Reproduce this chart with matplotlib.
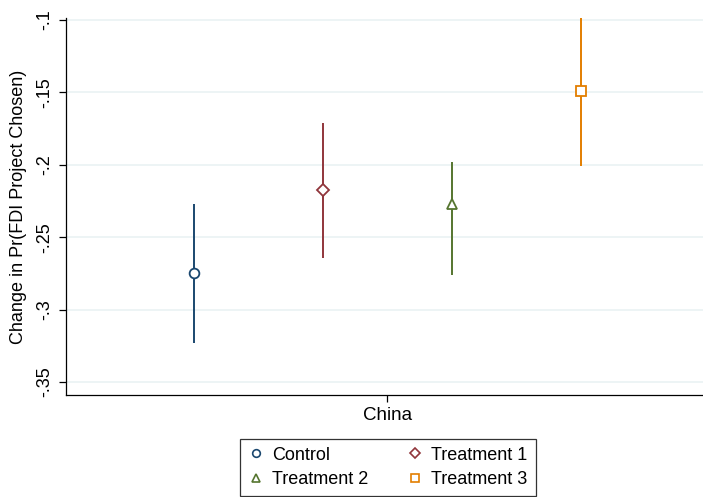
import matplotlib
matplotlib.use("Agg")
import matplotlib.pyplot as plt
from matplotlib.lines import Line2D

plt.rcParams['font.family'] = ['Liberation Sans', 'DejaVu Sans']

groups = ["Control", "Treatment 1", "Treatment 2", "Treatment 3"]
xpos = [-1.5, -0.5, 0.5, 1.5]
estimates = [-0.2747, -0.2174, -0.227, -0.149]
ci_low = [-0.323, -0.2644, -0.276, -0.2006]
ci_high = [-0.227, -0.1711, -0.198, -0.098]
colors = ["#1a476f", "#90353b", "#55752f", "#e37e00"]
markers = ["o", "D", "^", "s"]
msizes = [7, 6.5, 7, 7]
yticks = [-0.35, -0.3, -0.25, -0.2, -0.15, -0.1]
ytick_labels = ["-.35", "-.3", "-.25", "-.2", "-.15", "-.1"]
xtick_label = "China"

fig = plt.figure(figsize=(7.03, 4.97), dpi=100)
ax = fig.add_axes([66/703, 1-395/497, (703-66)/703, (395-18)/497])

for x, e, lo, hi, c, m, ms in zip(xpos, estimates, ci_low, ci_high, colors, markers, msizes):
    ax.plot([x, x], [lo, hi], color=c, lw=1.4, solid_capstyle='butt', zorder=2)
    ax.plot([x], [e], marker=m, ms=ms, mfc='white', mec=c, mew=1.3,
            linestyle='none', zorder=3)

ax.set_xlim(-2.49, 2.45)
ax.set_ylim(-0.359, -0.0986)
ax.set_yticks(yticks)
ax.set_yticklabels(ytick_labels, rotation=90, va='center', fontsize=13)
ax.set_xticks([0])
ax.set_xticklabels([xtick_label], fontsize=13.5)
ax.yaxis.grid(True, color='#eaf2f3', lw=1.2)
ax.set_axisbelow(True)
ax.spines['top'].set_visible(False)
ax.spines['right'].set_visible(False)
for s in ['left', 'bottom']:
    ax.spines[s].set_color('black')
    ax.spines[s].set_linewidth(0.9)
ax.tick_params(axis='both', length=5, width=0.9, color='black', pad=4)
ax.set_ylabel("Change in Pr(FDI Project Chosen)", fontsize=13, labelpad=7)

handles = [Line2D([], [], marker=m, ms=5.5, mfc='white', mec=c, mew=1.2, linestyle='none')
           for c, m in zip(colors, markers)]
order = [0, 2, 1, 3]
leg = fig.legend([handles[i] for i in order], [groups[i] for i in order],
                 ncol=2, loc='lower center', bbox_to_anchor=(388/703, 1/497),
                 fontsize=13, frameon=True, fancybox=False, edgecolor='black',
                 handletextpad=0.5, columnspacing=2.2, borderpad=0.45, labelspacing=0.4,
                 handlelength=0.8, borderaxespad=0)
leg.get_frame().set_linewidth(0.9)

fig.savefig("out.png", dpi=100, facecolor='white')
